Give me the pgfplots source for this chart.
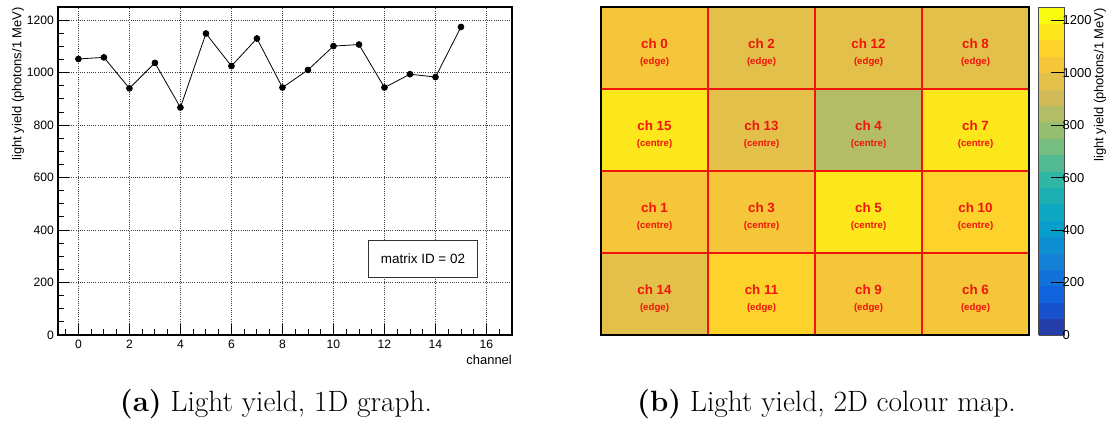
\documentclass[border=0pt]{standalone}
\usepackage{pgfplots}
\pgfplotsset{compat=1.18}
\usepgfplotslibrary{patchplots}
\usepackage{fontspec}
\newfontfamily\helv{Liberation Sans}
\pgfplotsset{colormap={birdd}{
 rgb=(0.1486,0.2438,0.6649) rgb=(0.0890,0.3212,0.8006) rgb=(0.0630,0.3887,0.8624)
 rgb=(0.0705,0.4464,0.8505) rgb=(0.0780,0.5041,0.8385) rgb=(0.0561,0.5592,0.8197)
 rgb=(0.0342,0.6143,0.8008) rgb=(0.0546,0.6571,0.7616) rgb=(0.1174,0.6874,0.7021)
 rgb=(0.1802,0.7178,0.6425) rgb=(0.3202,0.7304,0.5720) rgb=(0.4601,0.7429,0.5015)
 rgb=(0.5878,0.7459,0.4429) rgb=(0.7032,0.7394,0.3964) rgb=(0.8186,0.7328,0.3499)
 rgb=(0.8894,0.7542,0.2887) rgb=(0.9602,0.7755,0.2274) rgb=(0.9918,0.8256,0.1682)
 rgb=(0.9841,0.9044,0.1111) rgb=(0.9764,0.9832,0.0539)}}
\definecolor{rootred}{RGB}{240,20,10}
\pgfplotstableread{
x y e
0 1052 10
1 1058 8
2 940 10
3 1037 8
4 867 8
5 1149 8
6 1025 10
7 1130 14
8 943 10
9 1010 8
10 1101 8
11 1107 8
12 943 8
13 994 8
14 983 10
15 1174 10
}\graphdata
\pgfplotstableread{
x y v
0 0 983
1 0 983
1 1 983
0 1 983
1 0 1107
2 0 1107
2 1 1107
1 1 1107
2 0 1010
3 0 1010
3 1 1010
2 1 1010
3 0 1025
4 0 1025
4 1 1025
3 1 1025
0 1 1058
1 1 1058
1 2 1058
0 2 1058
1 1 1037
2 1 1037
2 2 1037
1 2 1037
2 1 1149
3 1 1149
3 2 1149
2 2 1149
3 1 1101
4 1 1101
4 2 1101
3 2 1101
0 2 1174
1 2 1174
1 3 1174
0 3 1174
1 2 994
2 2 994
2 3 994
1 3 994
2 2 867
3 2 867
3 3 867
2 3 867
3 2 1130
4 2 1130
4 3 1130
3 3 1130
0 3 1052
1 3 1052
1 4 1052
0 4 1052
1 3 940
2 3 940
2 4 940
1 4 940
2 3 943
3 3 943
3 4 943
2 4 943
3 3 943
4 3 943
4 4 943
3 4 943
}\mapdata
\begin{document}
\begin{tikzpicture}
\useasboundingbox (0,0) rectangle (1110bp,423bp);
\begin{axis}[
 at={(58bp,88bp)}, anchor=south west,
 scale only axis, width=454bp, height=328bp,
 xmin=-0.8, xmax=17, ymin=0, ymax=1250,
 xtick={0,2,...,16}, ytick={0,200,...,1200},
 minor xtick={-0.5,0.5,1,1.5,2.5,3,3.5,4.5,5,5.5,6.5,7,7.5,8.5,9,9.5,10.5,11,11.5,12.5,13,13.5,14.5,15,15.5,16.5},
 minor ytick={50,100,150,250,300,350,450,500,550,650,700,750,850,900,950,1050,1100,1150},
 tick pos=left, tick align=inside,
 major tick length=11bp, minor tick length=5.5bp,
 every tick/.style={black, line width=0.9bp},
 grid=major,
 major grid style={black!75, line width=0.7bp, dash pattern=on 1bp off 1.2bp},
 axis line style={line width=1.1bp},
 /pgf/number format/assume math mode=true,
 /pgf/number format/1000 sep={},
 ticklabel style={font=\helv\fontsize{12.2}{14}\selectfont},
 yticklabel style={inner sep=0pt, xshift=-4bp},
 xticklabel style={inner sep=0pt, yshift=-5bp},
 xlabel={channel}, ylabel={light yield (photons/1 MeV)},
 label style={font=\helv\fontsize{13}{15}\selectfont},
 xlabel style={at={(axis description cs:1,0)}, anchor=north east, inner sep=0pt, yshift=-20bp},
 ylabel style={at={(axis description cs:-0.088,1)}, anchor=east, inner sep=0pt},
]
\addplot[black, line width=0.8bp, mark=*, mark size=2.9bp,
  error bars/.cd, y dir=both, y explicit, error mark=none,
  error bar style={line width=1.1bp}]
  table[x=x, y=y, y error=e] {\graphdata};
\node[draw=black!80, line width=0.8bp, fill=white, minimum width=109bp, minimum height=37bp,
  font=\helv\fontsize{13.5}{15}\selectfont] at (axis cs:13.51,291) {matrix ID = 02};
\end{axis}
\begin{axis}[
 at={(601bp,88bp)}, anchor=south west,
 scale only axis, width=428bp, height=328bp,
 xmin=0, xmax=4, ymin=0, ymax=4,
 xtick=\empty, ytick=\empty,
 axis on top,
 axis line style={line width=1.1bp},
 colormap name=birdd, colormap access=piecewise constant,
 point meta min=0, point meta max=1250,
 colorbar right,
 colorbar style={
  at={(parent axis.north east)}, anchor=north west, xshift=1bp,
  scale only axis, width=26bp, height=328bp,
  colormap access=piecewise constant,
  ytick={0,200,...,1200},
  ytick pos=right, yticklabel pos=right,
  tick align=inside, major tick length=14bp,
  every tick/.style={black, line width=0.8bp},
  axis line style={line width=0.5bp, black!70},
  /pgf/number format/assume math mode=true,
  /pgf/number format/1000 sep={},
  yticklabel style={font=\helv\fontsize{13}{15}\selectfont, inner sep=0pt, xshift=-2bp},
 },
]
\addplot[patch, patch type=rectangle, shader=flat corner, draw=none, point meta=explicit] table[x=x, y=y, meta=v] {\mapdata};
\draw[rootred, line width=1.6bp] (axis cs:1,0) -- (axis cs:1,4) (axis cs:2,0) -- (axis cs:2,4) (axis cs:3,0) -- (axis cs:3,4)
  (axis cs:0,1) -- (axis cs:4,1) (axis cs:0,2) -- (axis cs:4,2) (axis cs:0,3) -- (axis cs:4,3);
\foreach \cx/\cy/\nm/\tp in {0.5/3.5/0/edge, 1.5/3.5/2/edge, 2.5/3.5/12/edge, 3.5/3.5/8/edge,
  0.5/2.5/15/centre, 1.5/2.5/13/centre, 2.5/2.5/4/centre, 3.5/2.5/7/centre,
  0.5/1.5/1/centre, 1.5/1.5/3/centre, 2.5/1.5/5/centre, 3.5/1.5/10/centre,
  0.5/0.5/14/edge, 1.5/0.5/11/edge, 2.5/0.5/9/edge, 3.5/0.5/6/edge}{
 \edef\temp{\noexpand\node[text=rootred, font=\noexpand\helv\noexpand\bfseries\noexpand\fontsize{13.4}{15}\noexpand\selectfont] at (axis cs:\cx,\cy+0.05) {ch \nm};
  \noexpand\node[text=rootred, font=\noexpand\helv\noexpand\bfseries\noexpand\fontsize{9.7}{11}\noexpand\selectfont] at (axis cs:\cx,\cy-0.165) {(\tp)};}
 \temp
}
\end{axis}
\node[rotate=90, anchor=east, inner sep=0pt, font=\helv\fontsize{13}{15}\selectfont] at (1100bp,415bp) {light yield (photons/1 MeV)};
\node[anchor=base, inner sep=0pt, font=\fontsize{29.5}{33}\selectfont] at (276bp,12bp) {\textbf{(a)} Light yield, 1D graph.};
\node[anchor=base, inner sep=0pt, font=\fontsize{29.5}{33}\selectfont] at (826.5bp,12bp) {\textbf{(b)} Light yield, 2D colour map.};
\end{tikzpicture}
\end{document}
